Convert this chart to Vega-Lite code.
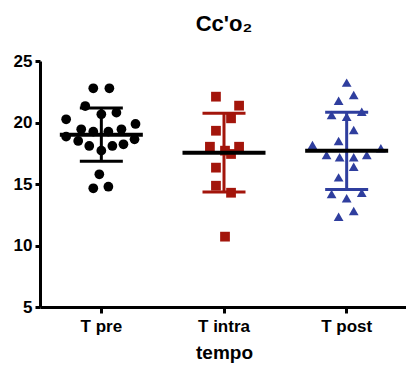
{
  "$schema": "https://vega.github.io/schema/vega-lite/v6.json",
  "width": 368,
  "height": 246,
  "autosize": "none",
  "padding": {"left": 40, "top": 61, "right": 0, "bottom": 63},
  "background": "white",
  "config": {
    "view": {"stroke": null},
    "font": "Liberation Sans",
    "axis": {
      "domainColor": "black", "domainWidth": 3, "tickColor": "black", "tickWidth": 3,
      "labelFont": "Liberation Sans", "labelFontWeight": "bold", "labelColor": "black", "labelFontSize": 17,
      "titleFont": "Liberation Sans", "titleFontWeight": "bold", "titleColor": "black", "titleFontSize": 19,
      "grid": false
    }
  },
  "title": {"text": "Cc'o₂", "font": "Liberation Sans", "fontSize": 22, "fontWeight": "bold", "color": "black", "anchor": "middle", "offset": 16},
  "data": {"values": [
    {"group": "T pre", "value": 22.78, "jitter": -8},
    {"group": "T pre", "value": 22.78, "jitter": 8},
    {"group": "T pre", "value": 21.34, "jitter": -16},
    {"group": "T pre", "value": 20.67, "jitter": 0},
    {"group": "T pre", "value": 20.80, "jitter": 15},
    {"group": "T pre", "value": 20.26, "jitter": -35},
    {"group": "T pre", "value": 19.88, "jitter": 34},
    {"group": "T pre", "value": 19.45, "jitter": -20},
    {"group": "T pre", "value": 19.26, "jitter": -8},
    {"group": "T pre", "value": 19.26, "jitter": 7},
    {"group": "T pre", "value": 19.45, "jitter": 20},
    {"group": "T pre", "value": 18.85, "jitter": -35},
    {"group": "T pre", "value": 18.50, "jitter": -23},
    {"group": "T pre", "value": 18.09, "jitter": -12},
    {"group": "T pre", "value": 17.71, "jitter": 0},
    {"group": "T pre", "value": 18.09, "jitter": 11},
    {"group": "T pre", "value": 18.23, "jitter": 22},
    {"group": "T pre", "value": 18.63, "jitter": 33},
    {"group": "T pre", "value": 15.79, "jitter": -2},
    {"group": "T pre", "value": 14.65, "jitter": -8},
    {"group": "T pre", "value": 14.78, "jitter": 7},
    {"group": "T intra", "value": 22.10, "jitter": -8},
    {"group": "T intra", "value": 21.37, "jitter": 15},
    {"group": "T intra", "value": 20.34, "jitter": 7},
    {"group": "T intra", "value": 19.33, "jitter": -8},
    {"group": "T intra", "value": 18.03, "jitter": -14},
    {"group": "T intra", "value": 18.03, "jitter": 15},
    {"group": "T intra", "value": 17.71, "jitter": 1},
    {"group": "T intra", "value": 17.44, "jitter": 7},
    {"group": "T intra", "value": 16.33, "jitter": -8},
    {"group": "T intra", "value": 14.86, "jitter": -8},
    {"group": "T intra", "value": 14.29, "jitter": 7},
    {"group": "T intra", "value": 10.72, "jitter": 1},
    {"group": "T post", "value": 23.24, "jitter": 0},
    {"group": "T post", "value": 22.24, "jitter": 7},
    {"group": "T post", "value": 21.77, "jitter": -8},
    {"group": "T post", "value": 20.61, "jitter": -15},
    {"group": "T post", "value": 20.47, "jitter": 0},
    {"group": "T post", "value": 20.88, "jitter": 15},
    {"group": "T post", "value": 19.39, "jitter": 7},
    {"group": "T post", "value": 18.50, "jitter": -8},
    {"group": "T post", "value": 18.17, "jitter": -34},
    {"group": "T post", "value": 17.90, "jitter": 34},
    {"group": "T post", "value": 17.36, "jitter": -20},
    {"group": "T post", "value": 17.17, "jitter": -7},
    {"group": "T post", "value": 17.17, "jitter": 7},
    {"group": "T post", "value": 17.36, "jitter": 20},
    {"group": "T post", "value": 16.41, "jitter": 7},
    {"group": "T post", "value": 15.54, "jitter": -8},
    {"group": "T post", "value": 14.19, "jitter": -15},
    {"group": "T post", "value": 13.84, "jitter": 0},
    {"group": "T post", "value": 14.29, "jitter": 15},
    {"group": "T post", "value": 12.80, "jitter": 7},
    {"group": "T post", "value": 12.34, "jitter": -8}
  ]},
  "encoding": {
    "x": {
      "field": "group", "type": "nominal", "sort": ["T pre", "T intra", "T post"],
      "scale": {"paddingInner": 0, "paddingOuter": 0},
      "axis": {"title": "tempo", "labelAngle": 0, "tickSize": 6, "labelPadding": 5, "titlePadding": 9}
    }
  },
  "layer": [
    {
      "mark": {"type": "point", "filled": true, "opacity": 1, "size": 95},
      "encoding": {
        "xOffset": {"field": "jitter", "type": "quantitative", "scale": {"domain": [-61, 61]}},
        "y": {
          "field": "value", "type": "quantitative",
          "scale": {"domain": [5, 25], "nice": false, "zero": false},
          "axis": {"title": null, "values": [5, 10, 15, 20, 25], "tickSize": 5, "labelPadding": 3}
        },
        "color": {"field": "group", "type": "nominal", "scale": {"domain": ["T pre", "T intra", "T post"], "range": ["#000000", "#A3150B", "#2F3E9E"]}, "legend": null},
        "shape": {"field": "group", "type": "nominal", "scale": {"domain": ["T pre", "T intra", "T post"], "range": ["circle", "square", "triangle-up"]}, "legend": null}
      }
    },
    {
      "transform": [
        {"aggregate": [{"op": "mean", "field": "value", "as": "mean"}, {"op": "stdev", "field": "value", "as": "sd"}], "groupby": ["group"]},
        {"calculate": "datum.mean - datum.sd", "as": "lo"},
        {"calculate": "datum.mean + datum.sd", "as": "hi"}
      ],
      "layer": [
        {
          "mark": {"type": "rule", "strokeWidth": 3, "opacity": 1},
          "encoding": {
            "y": {"field": "lo", "type": "quantitative"},
            "y2": {"field": "hi"},
            "color": {"field": "group", "type": "nominal", "legend": null}
          }
        },
        {
          "mark": {"type": "tick", "size": 43, "thickness": 3, "opacity": 1},
          "encoding": {
            "y": {"field": "lo", "type": "quantitative"},
            "color": {"field": "group", "type": "nominal", "legend": null}
          }
        },
        {
          "mark": {"type": "tick", "size": 43, "thickness": 3, "opacity": 1},
          "encoding": {
            "y": {"field": "hi", "type": "quantitative"},
            "color": {"field": "group", "type": "nominal", "legend": null}
          }
        },
        {
          "mark": {"type": "tick", "size": 83, "thickness": 4, "color": "black", "opacity": 1},
          "encoding": {
            "y": {"field": "mean", "type": "quantitative"}
          }
        }
      ]
    }
  ]
}
